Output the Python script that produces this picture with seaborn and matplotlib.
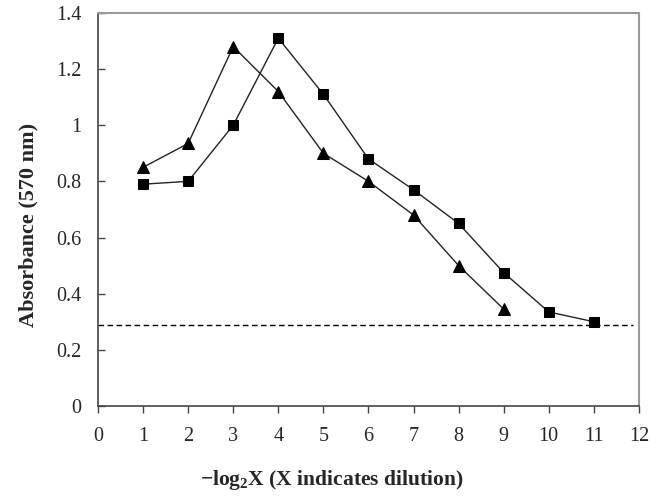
import numpy as np
import matplotlib
matplotlib.use("Agg")
import matplotlib.pyplot as plt
import seaborn as sns
import pandas as pd

# values
dilution_sq = [1, 2, 3, 4, 5, 6, 7, 8, 9, 10, 11]
absorb_sq = [0.79, 0.80, 1.00, 1.31, 1.11, 0.88, 0.77, 0.65, 0.475, 0.335, 0.30]
dilution_tri = [1, 2, 3, 4, 5, 6, 7, 8, 9]
absorb_tri = [0.85, 0.935, 1.28, 1.12, 0.90, 0.80, 0.68, 0.50, 0.345]
cutoff = 0.29

x_ticks = list(range(0, 13))
y_ticks = [0, 0.2, 0.4, 0.6, 0.8, 1, 1.2, 1.4]
y_tick_labels = ['0', '0.2', '0.4', '0.6', '0.8', '1', '1.2', '1.4']

sns.set_style('white')
plt.rcParams['font.family'] = ['Liberation Serif', 'DejaVu Serif']
plt.rcParams['mathtext.fontset'] = 'custom'
plt.rcParams['mathtext.rm'] = 'Liberation Serif:bold'
plt.rcParams['mathtext.default'] = 'rm'

df_sq = pd.DataFrame({'x': dilution_sq, 'y': absorb_sq})
df_tri = pd.DataFrame({'x': dilution_tri, 'y': absorb_tri})

fig = plt.figure(figsize=(6.6, 4.96), dpi=100)
ax = fig.add_axes([0.1485, 0.1815, 0.8195, 0.7925])

sns.lineplot(data=df_sq, x='x', y='y', ax=ax, color='#222222', lw=1.0,
             marker='s', markersize=7.5, markerfacecolor='black',
             markeredgecolor='black')
sns.lineplot(data=df_tri, x='x', y='y', ax=ax, color='#222222', lw=1.0,
             marker='^', markersize=9, markerfacecolor='black',
             markeredgecolor='black')
ax.axhline(cutoff, xmin=0, xmax=0.99, color='black', ls=(0, (4, 2.5)), lw=1.0)

ax.set_xlim(0, 12)
ax.set_ylim(0, 1.4)
ax.set_xticks(x_ticks)
ax.set_xticklabels([str(t) for t in x_ticks], fontsize=14.5)
ax.set_yticks(y_ticks)
ax.set_yticklabels(y_tick_labels, fontsize=14.5)
ax.tick_params(axis='x', direction='out', length=5, width=1, color='#444444', pad=10)
ax.tick_params(axis='y', direction='in', length=5, width=1, color='#444444', pad=12)
ax.tick_params(axis='x', bottom=True)
ax.tick_params(axis='y', left=True)

for side in ['left', 'bottom']:
    ax.spines[side].set_color('#444444')
    ax.spines[side].set_linewidth(1.2)
for side in ['top', 'right']:
    ax.spines[side].set_color('#999999')
    ax.spines[side].set_linewidth(1.5)

ax.set_ylabel('Absorbance (570 nm)', fontsize=16, fontweight='bold')
ax.yaxis.set_label_coords(-0.11, 0.46)
ax.set_xlabel(r'$-$log$_2$X (X indicates dilution)', fontsize=15.5,
              fontweight='bold')
ax.xaxis.set_label_coords(0.433, -0.158)

fig.savefig('out.png', dpi=100)
